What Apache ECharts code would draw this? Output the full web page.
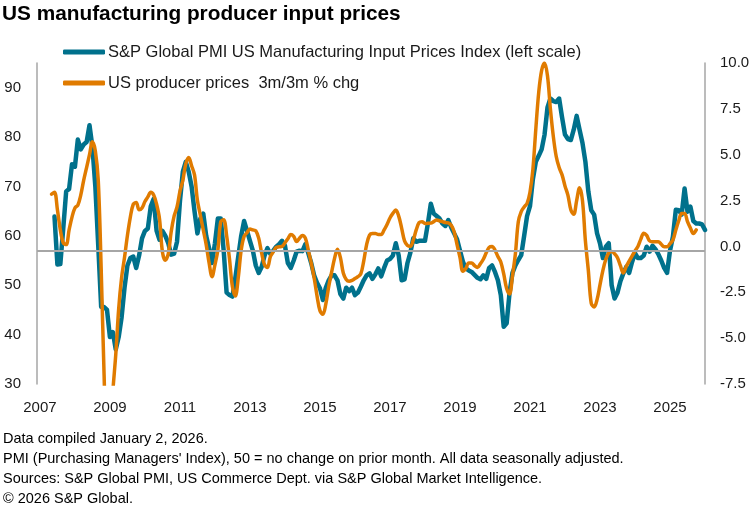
<!DOCTYPE html>
<html>
<head>
<meta charset="utf-8">
<script src="https://cdn.jsdelivr.net/npm/echarts@6/dist/echarts.min.js"></script>
<style>
html,body{margin:0;padding:0;background:#fff;}
#chart{width:755px;height:510px;}
</style>
</head>
<body>
<div id="chart"></div>
<script>
// Month categories: Nov 2006 .. Dec 2025
var firstYear = 2006, firstMonth = 11, lastYear = 2025, lastMonth = 12;
var categories = [];
(function(){
  var y = firstYear, m = firstMonth;
  while (y < lastYear || (y === lastYear && m <= lastMonth)) {
    categories.push(y + '-' + (m < 10 ? '0' + m : '' + m));
    m++; if (m > 12) { m = 1; y++; }
  }
})();

var xTickLabels = ['2007','2009','2011','2013','2015','2017','2019','2021','2023','2025'];
var leftTicks = [30, 40, 50, 60, 70, 80, 90];
var rightTicks = [-7.5, -5.0, -2.5, 0.0, 2.5, 5.0, 7.5, 10.0];

// S&P Global PMI US Manufacturing Input Prices Index, May 2007 .. Dec 2025
var pmiStart = '2007-05';
var pmiValues = [
  63.9, 54.2, 54.3, 61.5, 69, 69.5, 74.5, 74,
  79.5, 77.5, 78.5, 79, 82.4, 78, 70, 58, 45.6, 45.6, 45, 39.5,
  40.5, 37, 39.5, 43.5, 49.5, 54, 55.5, 55.8, 53.5, 56, 59.5, 61,
  61.5, 66, 67.5, 61, 59.2, 61, 60, 58.5, 56.2, 56.4, 58.8, 67,
  73, 75, 73, 70, 65, 60.5, 63.5, 64.5, 60, 57.5, 54.5, 58.5,
  63.5, 63.5, 57, 48.5, 48, 47.7, 51.5, 55.8, 60, 63, 61, 59,
  57, 54, 52.5, 53.7, 56, 57.5, 56.3, 57, 57.8, 58.3, 59, 58,
  54.5, 53.5, 55, 56.8, 57, 56.9, 58.3, 56.5, 54.5, 52, 50.5, 49.4,
  47, 49.5, 51, 52, 52, 51, 48.2, 47.3, 49.5, 48.8, 49.5, 48,
  48.5, 49.7, 51, 52, 52.4, 51.3, 52.2, 53.4, 51.8, 53.5, 55, 55.3,
  56, 58.5, 56, 51, 51.2, 54.5, 56.6, 59.5, 58.8, 59, 59, 59,
  62.5, 66.5, 64.5, 64, 63.5, 62.5, 62, 63.2, 61.7, 60.5, 59.3, 57,
  54.8, 53.4, 53, 52.7, 52.1, 51.5, 51.2, 52, 51.3, 53.5, 54, 52.7,
  51, 48, 41.6, 42.3, 48.5, 52.5, 54, 55.1, 56.1, 60, 64, 66,
  71.5, 75, 76.2, 77.5, 80.5, 86, 87.8, 87.3, 87.1, 87.8, 84, 80.5,
  79.6, 79.4, 81.5, 84.3, 81.5, 78.8, 75, 69, 65.2, 64.3, 60.5, 58.5,
  55.5, 57.8, 58.5, 50, 47.3, 48.5, 50.8, 52.4, 53.7, 52.5, 54.7, 56.5,
  55.5, 55.5, 56, 57.8, 56.8, 58, 57.3, 56.3, 55, 53.5, 52.5, 57,
  59.8, 65.3, 65.2, 64.3, 69.6, 64.9, 65.9, 63, 62.5, 62.5, 62.3, 61.2
];

// US producer prices, 3m/3m % change, Apr 2007 .. Sep 2025
var ppiStart = '2007-04';
var ppiValues = [
  2.85, 2.95, 2.0, 0.9, 0.2, 0.1, 0.9, 1.6, 2.1,
  2.25, 2.8, 3.6, 4.3, 5.0, 5.7, 5.2, 3.6, -1.2, -7, -11, -10.5,
  -7.9, -5.9, -3.4, -1.7, -0.6, 0.6, 1.6, 2.3, 2.4, 2.0, 2.1, 2.45,
  2.7, 2.95, 2.8, 2.3, 1.5, -0.3, -0.75, -0.4, 0.8, 1.65, 2.15, 3.0,
  3.6, 4.5, 4.85, 4.4, 3.9, 2.5, 1.7, 0.9, 0.1, -0.9, -1.65, -1.0,
  -0.2, 1.35, 1.45, 0.6, -0.7, -2.2, -2.7, -1.7, -0.2, 0.55, 0.75, 0.95,
  0.9, 0.85, 0.45, -0.35, -1.0, -1.15, -0.55, -0.3, -0.05, -0.02, 0.0, 0.2,
  0.42, 0.65, 0.55, 0.27, 0.45, 0.6, 0.45, -0.2, -0.9, -1.7, -2.7, -3.5,
  -3.7, -3.15, -2.2, -1.4, -0.65, -0.15, -0.6, -1.45, -1.8, -1.9, -1.85, -1.75,
  -1.65, -1.5, -0.8, 0.1, 0.62, 0.7, 0.7, 0.65, 0.65, 0.9, 1.2, 1.55,
  1.8, 1.98, 1.65, 1.0, 0.3, 0.05, 0.0, 0.35, 0.9, 1.3, 1.35, 1.25,
  1.26, 1.27, 1.35, 1.44, 1.4, 1.35, 1.3, 1.28, 1.15, 0.8, 0.1, -0.6,
  -1.35, -1.2, -0.9, -0.9, -1.05, -1.15, -0.95, -0.7, -0.35, -0.05, 0.0, -0.2,
  -0.55, -0.85, -1.5, -2.3, -2.6, -1.6, -0.4, 1.35, 1.9, 2.15, 2.35, 2.95,
  4.2, 6.4, 8.4, 9.6, 10.0, 9.3, 7.5, 6.0, 4.9, 4.3, 3.9, 3.3,
  2.8, 2.0, 1.75, 2.5, 3.2, 2.5, 0.3, -1.3, -3.1, -3.3, -2.9, -2.1,
  -1.3, -0.7, -0.35, -0.28, -0.4, -0.62, -1.05, -1.45, -1.1, -0.8, -0.52, -0.25,
  0.0, 0.4, 0.72, 0.6, 0.3, 0.26, 0.26, 0.26, 0.12, -0.02, -0.02, 0.15,
  0.35, 0.9, 1.4, 1.8, 1.8, 1.35, 1.0, 0.7, 0.9
];

var referenceLineValue = -0.25; // right-scale value of the grey reference line

var seriesNames = [
  'S&P Global PMI US Manufacturing Input Prices Index (left scale)',
  'US producer prices  3m/3m % chg'
];
var footnotes = [
  'Data compiled January 2, 2026.',
  "PMI (Purchasing Managers' Index), 50 = no change on prior month. All data seasonally adjusted.",
  'Sources: S&P Global PMI, US Commerce Dept. via S&P Global Market Intelligence.',
  '\u00A9 2026 S&P Global.'
];
var titleText = 'US manufacturing producer input prices';

function align(start, values) {
  var out = new Array(categories.length).fill(null);
  var s = categories.indexOf(start);
  for (var i = 0; i < values.length; i++) out[s + i] = values[i];
  return out;
}

var FONT = '"Liberation Sans", Arial, sans-serif';
var TEAL = '#00718c';
var ORANGE = '#e07b00';
var GREY = '#a6a6a6';
var TXT = '#1a1a1a';

var chart = echarts.init(document.getElementById('chart'), null, {renderer: 'canvas'});
var option = {
  animation: false,
  backgroundColor: '#fff',
  textStyle: {fontFamily: FONT},
  grid: {left: 37, right: 50, top: 63, bottom: 126, containLabel: false},
  legend: {
    orient: 'vertical',
    left: 58, top: 37,
    data: seriesNames,
    icon: 'roundRect',
    itemWidth: 42, itemHeight: 5,
    itemGap: 11,
    textStyle: {fontFamily: FONT, fontSize: 16.5, color: TXT, lineHeight: 20, padding: [0,0,0,-2]}
  },
  xAxis: {
    type: 'category',
    data: categories,
    boundaryGap: false,
    axisLine: {show: false},
    axisTick: {show: false},
    splitLine: {show: false},
    axisLabel: {
      interval: function (i) { return (i - 1) % 24 === 0 && (i - 1) / 24 < xTickLabels.length; },
      formatter: function (v, i) { return xTickLabels[(i - 1) / 24]; },
      margin: 16,
      fontFamily: FONT, fontSize: 15, color: TXT
    }
  },
  yAxis: [
    {
      type: 'value', position: 'left',
      min: leftTicks[0], max: 95, interval: 10,
      axisLine: {show: true, lineStyle: {color: GREY, width: 1.5}},
      axisTick: {show: false},
      splitLine: {show: false},
      axisLabel: {showMaxLabel: false, margin: 16, fontFamily: FONT, fontSize: 15, color: TXT,
        formatter: function (v) { return leftTicks.indexOf(v) >= 0 ? String(v) : ''; }}
    },
    {
      type: 'value', position: 'right',
      min: rightTicks[0], max: rightTicks[rightTicks.length - 1], interval: 2.5,
      axisLine: {show: true, lineStyle: {color: GREY, width: 1.5}},
      axisTick: {show: false},
      splitLine: {show: false},
      axisLabel: {margin: 15, fontFamily: FONT, fontSize: 15, color: TXT,
        formatter: function (v) { return v.toFixed(1); }}
    }
  ],
  series: [
    {
      name: 'ref', type: 'line', yAxisIndex: 1, data: [], silent: true,
      markLine: {
        silent: true, symbol: ['none','none'], label: {show: false},
        lineStyle: {color: GREY, width: 2, type: 'solid'},
        data: [{yAxis: referenceLineValue}]
      }
    },
    {
      name: seriesNames[0], type: 'line', yAxisIndex: 0,
      data: align(pmiStart, pmiValues),
      showSymbol: false, symbol: 'none', connectNulls: false,
      lineStyle: {color: TEAL, width: 4.5, cap: 'round', join: 'round'},
      itemStyle: {color: TEAL}
    },
    {
      name: seriesNames[1], type: 'line', yAxisIndex: 1,
      data: align(ppiStart, ppiValues),
      showSymbol: false, symbol: 'none', smooth: 0.35, clip: true,
      lineStyle: {color: ORANGE, width: 3.5, cap: 'round', join: 'round'},
      itemStyle: {color: ORANGE}
    }
  ],
  graphic: [
    {type: 'text', left: 2, top: 4, style: {text: titleText, font: 'bold 20.8px ' + FONT, fill: '#000'}}
  ].concat(footnotes.map(function (t, i) {
    return {type: 'text', left: 3, top: 431 + i * 20, style: {text: t, font: '14.5px ' + FONT, fill: '#000'}};
  }))
};
chart.setOption(option);
</script>
</body>
</html>
